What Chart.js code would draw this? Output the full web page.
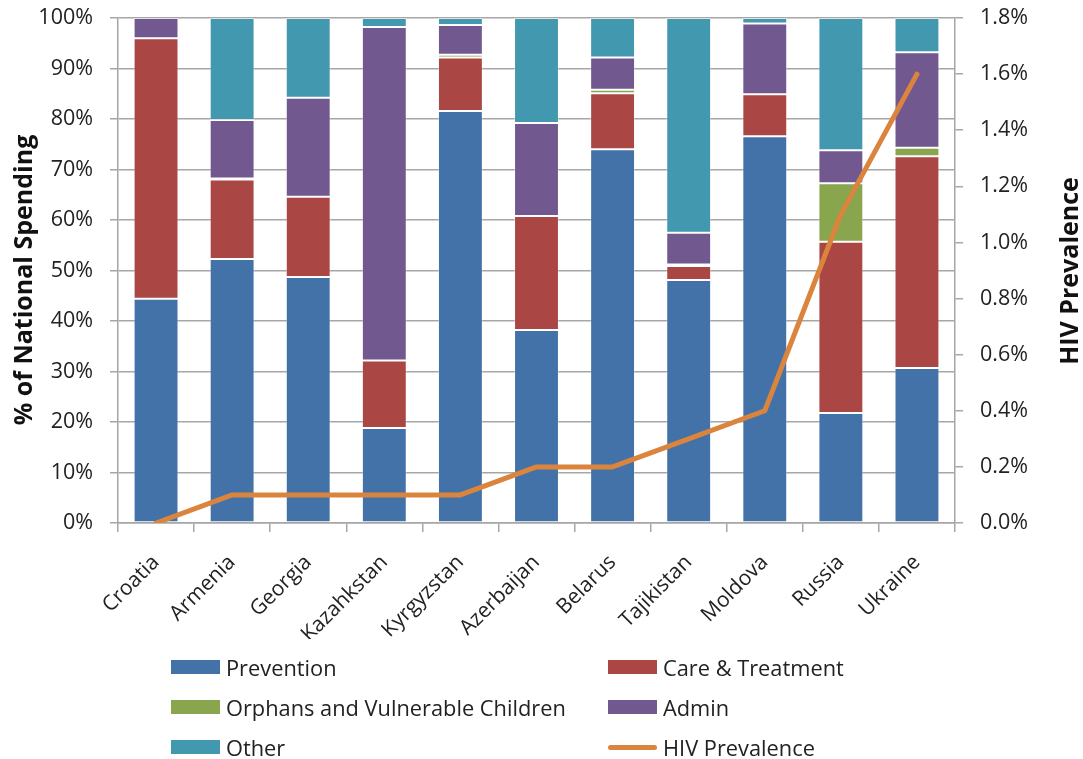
<!DOCTYPE html>
<html>
<head>
<meta charset="utf-8">
<script src="https://cdn.jsdelivr.net/npm/chart.js@4/dist/chart.umd.min.js"></script>
<style>
  html, body { margin: 0; padding: 0; background: #fff; }
  #wrap { position: relative; width: 1083px; height: 759px; }
  #legend { position: absolute; left: 171px; top: 650px; width: 800px;
    display: grid; grid-template-columns: 437px 300px; grid-auto-rows: 40px;
    font-family: "Open Sans", sans-serif; font-size: 21.8px; color: #222; }
  .item { display: flex; align-items: center; height: 34px; }
  .sw { width: 49px; height: 14px; margin-right: 6px; flex: none; }
  .ln { width: 49px; height: 5px; margin-right: 6px; border-radius: 3px; flex: none; }
</style>
</head>
<body>
<div id="wrap">
  <canvas id="c" width="1083" height="759"></canvas>
  <div id="legend"></div>
</div>
<script>
// Countries along the category axis
const countries = ['Croatia', 'Armenia', 'Georgia', 'Kazahkstan', 'Kyrgyzstan', 'Azerbaijan',
  'Belarus', 'Tajikistan', 'Moldova', 'Russia', 'Ukraine'];

// Share of national HIV spending by category (%)
const prevention = [44.4, 52.3, 48.7, 18.8, 81.6, 38.2, 74.0, 48.1, 76.6, 21.8, 30.7];
const careTreatment = [51.6, 15.7, 15.9, 13.4, 10.6, 22.6, 11.1, 2.8, 8.3, 33.9, 41.9];
const orphans = [0, 0.2, 0, 0, 0.5, 0, 0.7, 0.3, 0, 11.6, 1.7];
const admin = [4.0, 11.6, 19.6, 66.0, 5.9, 18.4, 6.4, 6.3, 14.0, 6.5, 18.9];
const other = [0, 20.2, 15.8, 1.8, 1.4, 20.8, 7.8, 42.5, 1.1, 26.2, 6.8];

// Adult HIV prevalence (%)
const hivPrevalence = [0.0, 0.1, 0.1, 0.1, 0.1, 0.2, 0.2, 0.3, 0.4, 1.1, 1.6];

// Axis tick values
const spendingTicks = [0, 10, 20, 30, 40, 50, 60, 70, 80, 90, 100];
const prevalenceTicks = [0, 0.2, 0.4, 0.6, 0.8, 1.0, 1.2, 1.4, 1.6, 1.8];

const FONT = '"Open Sans", sans-serif';
const GRID = '#a6a6a6';

const series = [
  { label: 'Prevention', data: prevention, color: '#4272a8' },
  { label: 'Care & Treatment', data: careTreatment, color: '#aa4643' },
  { label: 'Orphans and Vulnerable Children', data: orphans, color: '#89a54e' },
  { label: 'Admin', data: admin, color: '#71588f' },
  { label: 'Other', data: other, color: '#4198af' }
];

const datasets = series.map(s => ({
  type: 'bar', label: s.label, data: s.data, backgroundColor: s.color,
  borderColor: 'rgba(255,255,255,0.35)', borderWidth: 1, borderSkipped: false,
  yAxisID: 'y', stack: 'spend', order: 1,
  barPercentage: 0.59, categoryPercentage: 1
}));
datasets.push({
  type: 'line', label: 'HIV Prevalence', data: hivPrevalence, yAxisID: 'y1',
  borderColor: '#db843d', borderWidth: 5, pointRadius: 0, tension: 0,
  borderCapStyle: 'round', borderJoinStyle: 'round', order: 0
});

// Rotated axis titles, both reading bottom-to-top
const axisTitles = {
  id: 'axisTitles',
  afterDraw(chart) {
    const { ctx } = chart;
    ctx.save();
    ctx.font = 'bold 25px ' + FONT;
    ctx.fillStyle = '#111';
    ctx.textAlign = 'center';
    ctx.textBaseline = 'middle';
    [[25, 280, '% of National Spending'], [1071, 271, 'HIV Prevalence']].forEach(([x, y, t]) => {
      ctx.save();
      ctx.translate(x, y);
      ctx.rotate(-Math.PI / 2);
      ctx.fillText(t, 0, 0);
      ctx.restore();
    });
    ctx.restore();
  }
};

// Fixed-width vertical axes whose end labels may overhang the plot edges
function fixedVertical(width) {
  return s => { s.width = width; s.paddingTop = 0; s.paddingBottom = 0; };
}

new Chart(document.getElementById('c'), {
  data: { labels: countries, datasets },
  options: {
    responsive: false,
    animation: false,
    layout: { padding: { top: 18, bottom: 120, left: 0, right: 0 } },
    plugins: { legend: { display: false }, tooltip: { enabled: false } },
    scales: {
      x: {
        stacked: true,
        grid: { display: true, drawOnChartArea: false, offset: true, color: GRID, lineWidth: 1.5, tickLength: 9 },
        border: { color: GRID, width: 1.5 },
        ticks: { maxRotation: 45, minRotation: 45, padding: 18, color: '#222', font: { family: FONT, size: 21 } },
        afterFit(s) { s.height = 116; s.paddingLeft = 0; s.paddingRight = 0; }
      },
      y: {
        stacked: true, min: 0, max: 100, position: 'left',
        afterBuildTicks(s) { s.ticks = spendingTicks.map(v => ({ value: v })); },
        grid: { color: GRID, lineWidth: 1.5, tickLength: 8 },
        border: { color: GRID, width: 1.5 },
        ticks: { padding: 17, color: '#222', font: { family: FONT, size: 21.5 }, callback: v => v + '%' },
        afterFit: fixedVertical(118)
      },
      y1: {
        min: 0, max: 1.8, position: 'right',
        afterBuildTicks(s) { s.ticks = prevalenceTicks.map(v => ({ value: v })); },
        grid: { drawOnChartArea: false, color: GRID, lineWidth: 1.5, tickLength: 8 },
        border: { color: GRID, width: 1.5 },
        ticks: { padding: 17, color: '#222', font: { family: FONT, size: 21.5 }, callback: v => Number(v).toFixed(1) + '%' },
        afterFit: fixedVertical(128)
      }
    }
  },
  plugins: [axisTitles]
});

// Two-column legend
const legend = document.getElementById('legend');
const legendOrder = [0, 1, 2, 3, 4, 'line'];
legendOrder.forEach(i => {
  const el = document.createElement('div');
  el.className = 'item';
  const mark = document.createElement('span');
  if (i === 'line') {
    mark.className = 'ln';
    mark.style.background = '#db843d';
  } else {
    mark.className = 'sw';
    mark.style.background = series[i].color;
  }
  const txt = document.createElement('span');
  txt.textContent = i === 'line' ? 'HIV Prevalence' : series[i].label;
  el.appendChild(mark);
  el.appendChild(txt);
  legend.appendChild(el);
});
</script>
</body>
</html>
